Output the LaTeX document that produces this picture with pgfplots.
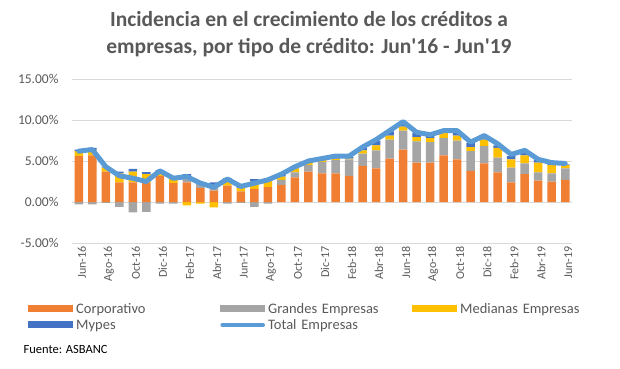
\documentclass[border=0pt]{standalone}
\usepackage{pgfplots}
\pgfplotsset{compat=1.18}
\usepackage{pgfplotstable}
\usepackage{fontspec}
\setmainfont{Carlito}
\definecolor{corp}{HTML}{F07F33}
\definecolor{gran}{HTML}{A5A5A5}
\definecolor{med}{HTML}{FFC000}
\definecolor{myp}{HTML}{4472C4}
\definecolor{totblue}{HTML}{5B9BD5}
\definecolor{labelgrey}{HTML}{595959}
\definecolor{gridgrey}{HTML}{D9D9D9}
\pgfplotstableread{
x corp gran med myp tot
0 5.6 -0.3 0.6 0.2 6.2
1 5.7 -0.3 0.6 0.3 6.4
2 3.7 -0.1 0.5 0.1 4.3
3 2.4 -0.6 1.1 0.2 3.2
4 2.4 -1.25 1.3 0.35 2.9
5 2.3 -1.2 1.1 0.25 2.5
6 3.2 -0.2 0.5 0.2 3.8
7 2.3 -0.2 0.6 0.1 2.9
8 2.4 0.7 -0.4 0.3 3.1
9 1.7 0.5 -0.2 0.2 2.3
10 1.4 0.7 -0.65 0.3 1.8
11 2.0 -0.2 0.7 0.2 2.8
12 1.3 -0.1 0.4 0.2 1.9
13 1.6 -0.6 0.9 0.3 2.3
14 1.8 -0.2 0.8 0.2 2.7
15 2.1 0.6 0.4 0.2 3.4
16 3.0 0.6 0.5 0.1 4.3
17 3.7 0.8 0.3 0.1 5.0
18 3.5 1.4 0.2 0.1 5.3
19 3.5 1.6 0.2 0.2 5.6
20 3.2 2.0 0.1 0.2 5.6
21 4.4 1.5 0.4 0.3 6.7
22 4.1 2.2 0.6 0.6 7.6
23 5.3 2.3 0.5 0.5 8.7
24 6.4 2.3 0.5 0.5 9.8
25 4.8 2.6 0.5 0.5 8.5
26 4.8 2.5 0.5 0.3 8.2
27 5.7 2.1 0.6 0.2 8.7
28 5.2 2.3 0.6 0.5 8.7
29 3.8 2.4 0.5 0.5 7.3
30 4.7 2.1 0.8 0.4 8.1
31 3.6 1.8 1.2 0.3 7.1
32 2.4 1.8 1.0 0.4 5.8
33 3.4 1.3 1.0 0.5 6.3
34 2.6 1.0 1.2 0.3 5.2
35 2.5 1.0 1.0 0.2 4.8
36 2.7 1.4 0.4 0.1 4.7
}\datatable
\begin{document}
\begin{tikzpicture}
\useasboundingbox (0pt,0pt) rectangle (620pt,368pt);
\node[align=center, font=\fontsize{21.5}{27}\selectfont\bfseries, text=labelgrey] at (309pt,334pt)
  {Incidencia en el crecimiento de los créditos a\\empresas, por tipo de crédito: Jun\textquotesingle16 - Jun\textquotesingle19};
\begin{axis}[
  at={(72pt,125pt)}, anchor=south west,
  scale only axis, width=500pt, height=164pt,
  ybar stacked, stack negative=separate, bar width=8.5pt,
  xmin=-0.5, xmax=36.5, ymin=-5, ymax=15,
  ytick={-5,0,5,10,15},
  yticklabels={-5.00\%,0.00\%,5.00\%,10.00\%,15.00\%},
  xtick={0,2,...,36},
  xticklabels={Jun-16,Ago-16,Oct-16,Dic-16,Feb-17,Abr-17,Jun-17,Ago-17,Oct-17,Dic-17,Feb-18,Abr-18,Jun-18,Ago-18,Oct-18,Dic-18,Feb-19,Abr-19,Jun-19},
  x tick label style={rotate=90, anchor=east, font=\fontsize{12}{13}\selectfont, text=labelgrey, yshift=-3pt},
  y tick label style={font=\fontsize{13.5}{15}\selectfont, text=labelgrey, xshift=-10pt},
  ymajorgrids, grid style={draw=gridgrey, line width=0.8pt},
  axis line style={draw=none}, major tick length=0pt, tick style={draw=none},
  legend columns=3, legend cell align=left,
  legend style={at={(-0.088,-0.365)}, anchor=north west, draw=none, fill=none,
    font=\fontsize{14.5}{16}\selectfont, text=labelgrey, inner sep=0pt,
    nodes={text width=141pt, align=left, inner xsep=3pt, inner ysep=0.5pt},
    column sep=0pt, row sep=3.5pt},
]
\addplot[fill=corp, draw=none, legend image code/.code={\fill[corp] (0pt,-3pt) rectangle (45pt,4pt);}] table[x=x,y=corp]{\datatable};
\addlegendentry{Corporativo}
\addplot[fill=gran, draw=none, legend image code/.code={\fill[gran] (0pt,-3pt) rectangle (45pt,4pt);}] table[x=x,y=gran]{\datatable};
\addlegendentry{Grandes Empresas}
\addplot[fill=med, draw=none, legend image code/.code={\fill[med] (0pt,-3pt) rectangle (45pt,4pt);}] table[x=x,y=med]{\datatable};
\addlegendentry{Medianas Empresas}
\addplot[fill=myp, draw=none, legend image code/.code={\fill[myp] (0pt,-3pt) rectangle (45pt,4pt);}] table[x=x,y=myp]{\datatable};
\addlegendentry{Mypes}
\addlegendimage{legend image code/.code={\draw[totblue, line width=3.5pt, line cap=round] (2pt,0.5pt) -- (43pt,0.5pt);}}
\addlegendentry{Total Empresas}
\end{axis}
\begin{axis}[
  at={(72pt,125pt)}, anchor=south west,
  scale only axis, width=500pt, height=164pt,
  xmin=-0.5, xmax=36.5, ymin=-5, ymax=15, hide axis,
]
\addplot[totblue, line width=5pt, line join=round, line cap=round] table[x=x,y=tot]{\datatable};
\end{axis}
\node[anchor=west, font=\fontsize{12.5}{14}\selectfont] at (20pt,19pt) {Fuente: ASBANC};
\end{tikzpicture}
\end{document}
